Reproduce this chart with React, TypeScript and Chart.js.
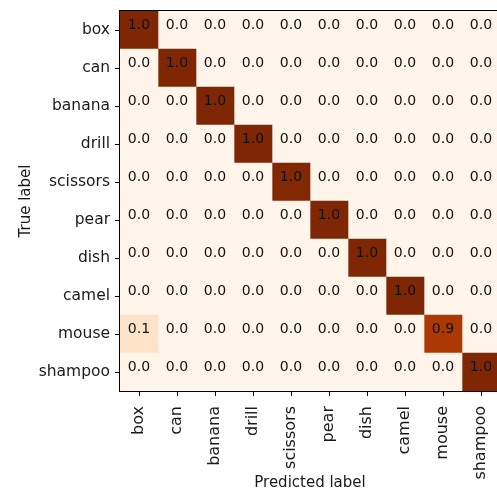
import React, { useEffect, useRef } from "react";
import { Chart, registerables } from "chart.js";

Chart.register(...registerables);

const classLabels = ["box", "can", "banana", "drill", "scissors", "pear", "dish", "camel", "mouse", "shampoo"];

const rowBox = [1.0, 0, 0, 0, 0, 0, 0, 0, 0, 0];
const rowCan = [0, 1.0, 0, 0, 0, 0, 0, 0, 0, 0];
const rowBanana = [0, 0, 1.0, 0, 0, 0, 0, 0, 0, 0];
const rowDrill = [0, 0, 0, 1.0, 0, 0, 0, 0, 0, 0];
const rowScissors = [0, 0, 0, 0, 0.99, 0, 0, 0.01, 0, 0];
const rowPear = [0, 0, 0, 0, 0, 1.0, 0, 0, 0, 0];
const rowDish = [0, 0, 0, 0, 0, 0, 1.0, 0, 0, 0];
const rowCamel = [0, 0, 0, 0, 0, 0, 0, 1.0, 0, 0];
const rowMouse = [0.14, 0.0, 0, 0, 0, 0, 0, 0, 0.86, 0];
const rowShampoo = [0, 0, 0, 0, 0, 0, 0, 0, 0, 1.0];

const matrix = [rowBox, rowCan, rowBanana, rowDrill, rowScissors, rowPear, rowDish, rowCamel, rowMouse, rowShampoo];

const orangeStops = ["#fff5eb", "#fee6ce", "#fdd0a2", "#fdae6b", "#fd8d3c", "#f16913", "#d94801", "#a63603", "#7f2704"];

function hexToRgb(h: string) {
  return [parseInt(h.slice(1, 3), 16), parseInt(h.slice(3, 5), 16), parseInt(h.slice(5, 7), 16)];
}

function cmap(v: number) {
  const t = Math.max(0, Math.min(1, v)) * (orangeStops.length - 1);
  const i = Math.min(Math.floor(t), orangeStops.length - 2);
  const f = t - i;
  const a = hexToRgb(orangeStops[i]);
  const b = hexToRgb(orangeStops[i + 1]);
  const c = a.map((x, k) => Math.round(x + (b[k] - x) * f));
  return `rgb(${c[0]},${c[1]},${c[2]})`;
}

export default function App() {
  const ref = useRef<HTMLCanvasElement>(null);

  useEffect(() => {
    if (!ref.current) return;
    Chart.defaults.font.family = "'DejaVu Sans', sans-serif";
    Chart.defaults.color = "#000";

    const datasets = classLabels.map((name, j) => ({
      label: name,
      data: matrix.map(() => 1),
      backgroundColor: matrix.map((r) => cmap(r[j])),
      borderWidth: 0,
      barPercentage: 1,
      categoryPercentage: 1,
      stack: "s",
    }));

    const textPlugin = {
      id: "cellText",
      afterDatasetsDraw(chart: any) {
        const { ctx, scales, chartArea } = chart;
        const xs = scales.x;
        const ys = scales.y;
        ctx.save();
        ctx.font = "14px 'DejaVu Sans', sans-serif";
        ctx.fillStyle = "#111";
        ctx.textAlign = "center";
        ctx.textBaseline = "alphabetic";
        matrix.forEach((row, i) => {
          row.forEach((v, j) => {
            const x = xs.getPixelForValue(j + 0.5);
            const y = ys.getPixelForValue(i);
            ctx.fillText(v.toFixed(1), x, y - 1);
          });
        });
        ctx.strokeStyle = "#000";
        ctx.lineWidth = 1;
        ctx.strokeRect(
          chartArea.left - 0.5,
          chartArea.top - 0.5,
          chartArea.right - chartArea.left + 1,
          chartArea.bottom - chartArea.top + 1
        );
        ctx.restore();
      },
    };

    const chart = new Chart(ref.current, {
      type: "bar",
      data: { labels: classLabels, datasets },
      options: {
        indexAxis: "y",
        animation: false,
        responsive: false,
        devicePixelRatio: 1,
        layout: { padding: { top: 11, right: 20, left: 0, bottom: 0 } },
        plugins: { legend: { display: false }, tooltip: { enabled: false } },
        scales: {
          x: {
            type: "linear",
            stacked: true,
            min: 0,
            max: 10,
            afterBuildTicks: (s: any) => {
              s.ticks = classLabels.map((_, i) => ({ value: i + 0.5 }));
            },
            afterFit: (s: any) => {
              s.height = 106;
              s.paddingLeft = 0;
              s.paddingRight = 0;
            },
            ticks: {
              autoSkip: false,
              maxRotation: 90,
              minRotation: 90,
              padding: 10,
              font: { size: 16 },
              color: "#1a1a1a",
              callback: (_v: any, idx: number) => classLabels[idx],
            },
            grid: { display: true, drawOnChartArea: false, drawTicks: true, tickLength: 5, color: "#000" },
            border: { display: false },
            title: {
              display: true,
              text: "Predicted label",
              font: { size: 15 },
              color: "#1a1a1a",
              padding: { top: 0, bottom: 5 },
            },
          },
          y: {
            type: "category",
            stacked: true,
            offset: true,
            afterFit: (s: any) => {
              s.width = 120;
              s.paddingTop = 0;
              s.paddingBottom = 0;
            },
            ticks: { padding: 5, font: { size: 15.5 }, color: "#1a1a1a" },
            grid: { display: true, offset: false, drawOnChartArea: false, drawTicks: true, tickLength: 5, color: "#000" },
            border: { display: false },
            title: {
              display: true,
              text: "True label",
              font: { size: 15 },
              color: "#1a1a1a",
              padding: { top: 17, bottom: 0 },
            },
          },
        },
      },
      plugins: [textPlugin],
    } as any);

    return () => chart.destroy();
  }, []);

  return (
    <div style={{ position: "fixed", left: 0, top: 0, width: 497, height: 497, overflow: "hidden", background: "#fff" }}>
      <canvas ref={ref} width={520} height={497} style={{ display: "block" }} />
    </div>
  );
}
